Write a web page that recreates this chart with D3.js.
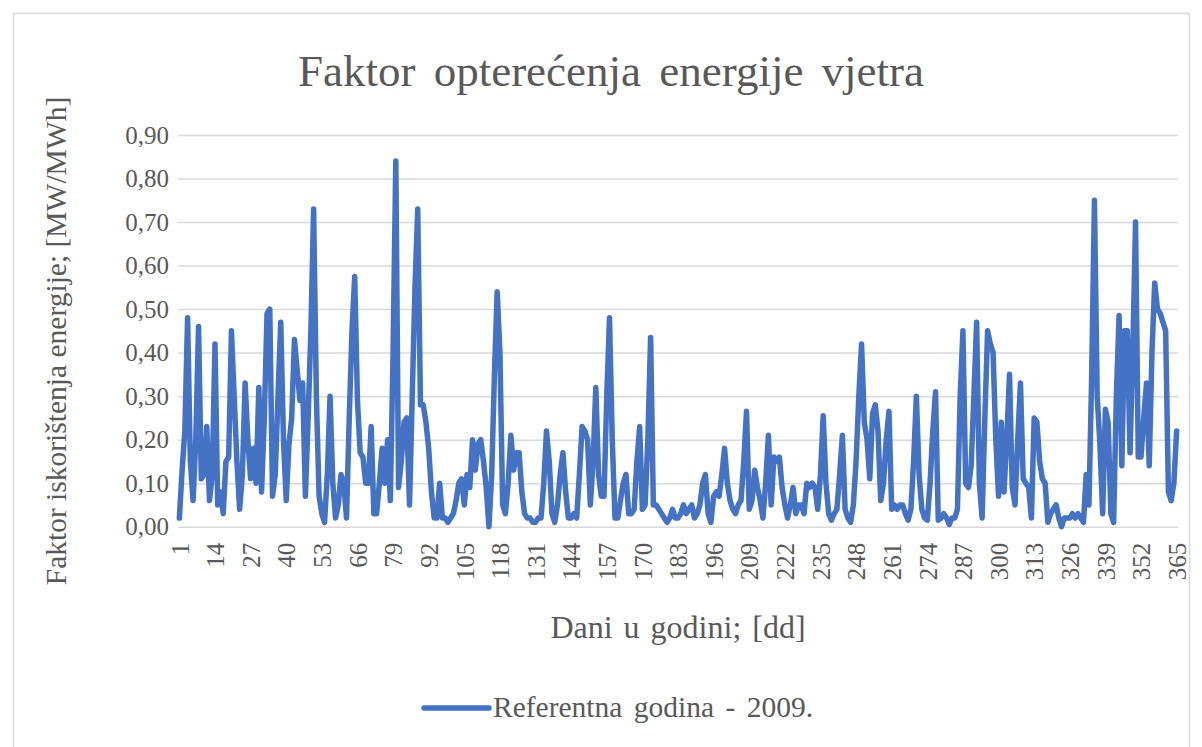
<!DOCTYPE html>
<html>
<head>
<meta charset="utf-8">
<script src="https://cdn.jsdelivr.net/npm/d3@7"></script>
<style>
  html, body { margin: 0; padding: 0; background: #fff; }
  svg text { font-family: "Liberation Serif", "Times New Roman", serif; fill: #595959; }
</style>
</head>
<body>
<svg id="chart" width="1202" height="747"></svg>
<script>
// wind load factor per day, reference year 2009
const days = d3.range(1, 366);
const factor = [
  // 1-50
  0.02, 0.13, 0.22, 0.48, 0.15, 0.06, 0.20, 0.46, 0.11, 0.12,
  0.23, 0.06, 0.12, 0.42, 0.05, 0.08, 0.03, 0.15, 0.16, 0.45,
  0.30, 0.15, 0.04, 0.12, 0.33, 0.20, 0.11, 0.18, 0.10, 0.32,
  0.08, 0.25, 0.49, 0.50, 0.07, 0.12, 0.30, 0.47, 0.20, 0.06,
  0.19, 0.25, 0.43, 0.36, 0.29, 0.33, 0.07, 0.25, 0.45, 0.73,
  // 51-100
  0.30, 0.07, 0.03, 0.01, 0.12, 0.30, 0.10, 0.02, 0.05, 0.12,
  0.10, 0.02, 0.25, 0.45, 0.575, 0.29, 0.17, 0.16, 0.10, 0.10,
  0.23, 0.03, 0.03, 0.10, 0.18, 0.10, 0.20, 0.06, 0.40, 0.84,
  0.09, 0.15, 0.24, 0.25, 0.05, 0.30, 0.55, 0.73, 0.28, 0.28,
  0.24, 0.18, 0.08, 0.02, 0.02, 0.10, 0.02, 0.02, 0.01, 0.02,
  // 101-150
  0.03, 0.06, 0.10, 0.11, 0.05, 0.12, 0.09, 0.20, 0.13, 0.19,
  0.20, 0.15, 0.09, 0.00, 0.12, 0.35, 0.54, 0.40, 0.05, 0.03,
  0.10, 0.21, 0.13, 0.17, 0.17, 0.08, 0.03, 0.02, 0.02, 0.01,
  0.01, 0.02, 0.02, 0.10, 0.22, 0.15, 0.03, 0.01, 0.05, 0.12,
  0.17, 0.08, 0.02, 0.02, 0.03, 0.02, 0.12, 0.23, 0.22, 0.20,
  // 151-200
  0.05, 0.15, 0.32, 0.12, 0.07, 0.07, 0.30, 0.48, 0.20, 0.02,
  0.02, 0.06, 0.10, 0.12, 0.03, 0.03, 0.04, 0.15, 0.23, 0.04,
  0.05, 0.20, 0.435, 0.05, 0.05, 0.04, 0.03, 0.02, 0.01, 0.02,
  0.04, 0.02, 0.02, 0.03, 0.05, 0.03, 0.04, 0.05, 0.02, 0.03,
  0.05, 0.10, 0.12, 0.03, 0.01, 0.07, 0.08, 0.07, 0.12, 0.18,
  // 201-250
  0.10, 0.06, 0.04, 0.03, 0.05, 0.06, 0.15, 0.265, 0.04, 0.06,
  0.13, 0.09, 0.06, 0.02, 0.10, 0.21, 0.05, 0.16, 0.15, 0.16,
  0.09, 0.05, 0.02, 0.05, 0.09, 0.03, 0.05, 0.05, 0.03, 0.10,
  0.09, 0.10, 0.09, 0.04, 0.12, 0.255, 0.10, 0.03, 0.015, 0.03,
  0.04, 0.12, 0.21, 0.04, 0.02, 0.01, 0.05, 0.15, 0.30, 0.42,
  // 251-300
  0.24, 0.20, 0.11, 0.26, 0.28, 0.22, 0.06, 0.10, 0.20, 0.265,
  0.04, 0.05, 0.04, 0.05, 0.05, 0.03, 0.015, 0.04, 0.15, 0.30,
  0.12, 0.04, 0.02, 0.015, 0.10, 0.22, 0.31, 0.015, 0.02, 0.03,
  0.02, 0.005, 0.02, 0.02, 0.04, 0.30, 0.45, 0.10, 0.09, 0.14,
  0.30, 0.47, 0.10, 0.02, 0.25, 0.45, 0.42, 0.40, 0.20, 0.07,
  // 301-350
  0.24, 0.08, 0.20, 0.35, 0.09, 0.05, 0.20, 0.33, 0.11, 0.10,
  0.09, 0.02, 0.25, 0.24, 0.15, 0.11, 0.10, 0.01, 0.03, 0.04,
  0.05, 0.02, 0.00, 0.02, 0.02, 0.02, 0.03, 0.02, 0.03, 0.02,
  0.01, 0.12, 0.05, 0.35, 0.75, 0.30, 0.19, 0.03, 0.27, 0.24,
  0.03, 0.01, 0.30, 0.485, 0.14, 0.45, 0.45, 0.17, 0.40, 0.70,
  // 351-365
  0.16, 0.16, 0.25, 0.33, 0.14, 0.40, 0.56, 0.50, 0.49, 0.47,
  0.45, 0.08, 0.06, 0.10, 0.22
];
const yTicks = [0, 0.1, 0.2, 0.3, 0.4, 0.5, 0.6, 0.7, 0.8, 0.9];
const xTickDays = d3.range(1, 366, 13);
const seriesName = "Referentna godina - 2009.";

const svg = d3.select("#chart");

// chart frame
svg.append("rect")
  .attr("x", 13.5).attr("y", 13.5)
  .attr("width", 1176).attr("height", 760)
  .attr("fill", "none")
  .attr("stroke", "#d9d9d9")
  .attr("stroke-width", 1.5);

let x = d3.scalePoint()
  .domain(days)
  .range([178, 1178])
  .padding(0.5);

let y = d3.scaleLinear()
  .domain([0, 0.9])
  .range([526.7, 135]);

const fmt = v => d3.format(".2f")(v).replace(".", ",");

// horizontal gridlines
svg.append("g")
  .attr("class", "grid")
  .attr("transform", "translate(178,0)")
  .call(d3.axisLeft(y).tickValues(yTicks).tickSize(-1000).tickFormat(""))
  .call(g => g.select(".domain").remove())
  .call(g => g.selectAll("line").attr("stroke", "#d9d9d9").attr("stroke-width", 1.5));

// y axis labels
svg.append("g")
  .attr("transform", "translate(178,0)")
  .call(d3.axisLeft(y).tickValues(yTicks).tickSize(0).tickPadding(9).tickFormat(fmt))
  .call(g => g.select(".domain").remove())
  .call(g => g.selectAll("text")
    .attr("font-size", 25)
    .attr("font-family", "Liberation Serif")
    .attr("fill", "#595959"));

// x axis labels, rotated
svg.append("g")
  .attr("transform", "translate(0,526.7)")
  .call(d3.axisBottom(x).tickValues(xTickDays).tickSize(0).tickPadding(0))
  .call(g => g.select(".domain").remove())
  .call(g => g.selectAll("text")
    .attr("font-size", 25)
    .attr("font-family", "Liberation Serif")
    .attr("fill", "#595959")
    .attr("text-anchor", "end")
    .attr("dy", "0.35em")
    .attr("transform", "translate(0,16) rotate(-90)")
    .attr("x", 0).attr("y", 0));

// the series
svg.append("path")
  .datum(factor)
  .attr("fill", "none")
  .attr("stroke", "#4472C4")
  .attr("stroke-width", 5.5)
  .attr("stroke-linejoin", "round")
  .attr("stroke-linecap", "round")
  .attr("d", d3.line()
    .x((d, i) => x(days[i]))
    .y(d => y(d)));

// title
svg.append("text")
  .attr("x", 611).attr("y", 86)
  .attr("text-anchor", "middle")
  .attr("font-size", 45)
  .attr("word-spacing", 7)
  .text("Faktor opterećenja energije vjetra");

// axis titles
svg.append("text")
  .attr("transform", "translate(66,341) rotate(-90)")
  .attr("text-anchor", "middle")
  .attr("font-size", 29.5)
  .text("Faktor iskorištenja energije; [MW/MWh]");

svg.append("text")
  .attr("x", 678).attr("y", 638)
  .attr("text-anchor", "middle")
  .attr("font-size", 32)
  .attr("word-spacing", 3)
  .text("Dani u godini; [dd]");

// legend
svg.append("line")
  .attr("x1", 424).attr("x2", 489)
  .attr("y1", 708).attr("y2", 708)
  .attr("stroke", "#4472C4")
  .attr("stroke-width", 5.5)
  .attr("stroke-linecap", "round");

svg.append("text")
  .attr("x", 493).attr("y", 717)
  .attr("font-size", 29.5)
  .attr("word-spacing", 4)
  .text(seriesName);
</script>
</body>
</html>
